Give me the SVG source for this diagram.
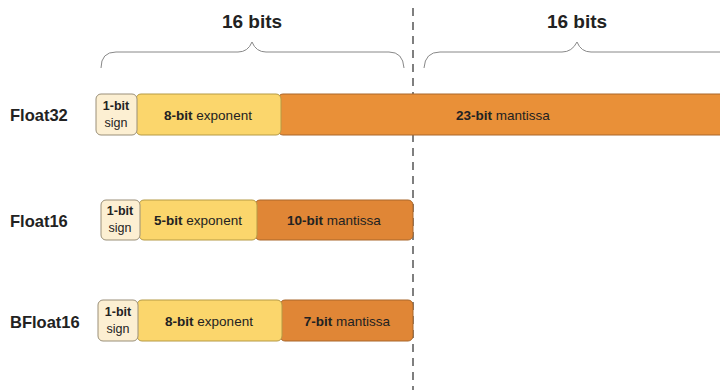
<svg xmlns="http://www.w3.org/2000/svg" width="720" height="390" viewBox="0 0 720 390">
<style>
.sign{fill:#fcefd2;stroke:#9a8f78;stroke-width:1}
.exp{fill:#fbd66c;stroke:#b59a45;stroke-width:1}
.man{fill:#e99038;stroke:#a9672a;stroke-width:1}
.man2{fill:#e08636;stroke:#a9672a;stroke-width:1}
text{font-family:"Liberation Sans",Arial,sans-serif;fill:#222}
.lbl{font-size:16.5px;font-weight:bold}
.hd{font-size:19px;font-weight:bold;text-anchor:middle}
.t{font-size:13.5px;text-anchor:middle}
.s{font-size:12.5px;text-anchor:middle}
.brace{fill:none;stroke:#888;stroke-width:1}
</style>
<rect width="720" height="390" fill="#fff"/>
<g id="header">
<text class="hd" x="252" y="28">16 bits</text>
<text class="hd" x="577" y="28">16 bits</text>
<path class="brace" d="M101,68 Q101,52 116,52 L238,52 Q248,52 252,42 Q256,52 266,52 L389,52 Q403,52 404,68"/>
<path class="brace" d="M424,68 Q425,52 440,52 L562,52 Q572,52 577,42 Q581,52 591,52 L720,52"/>
</g>
<g id="connectors">
<line x1="413" y1="8" x2="413" y2="390" stroke="#555" stroke-width="1.5" stroke-dasharray="8,6"/>
</g>
<g id="float32">
<text class="lbl" x="10" y="121">Float32</text>
<rect class="man" x="278" y="94" width="450" height="41" rx="5"/>
<rect class="exp" x="136" y="94" width="145" height="41" rx="5"/>
<rect class="sign" x="96" y="94" width="41" height="41" rx="5"/>
<text class="s" x="116" y="110" font-weight="bold">1-bit</text>
<text class="s" x="116" y="127">sign</text>
<text class="t" x="208" y="120"><tspan font-weight="bold">8-bit</tspan> exponent</text>
<text class="t" x="503" y="120"><tspan font-weight="bold">23-bit</tspan> mantissa</text>
</g>
<g id="float16">
<text class="lbl" x="10" y="227">Float16</text>
<rect class="man2" x="255" y="200" width="158" height="40" rx="5"/>
<rect class="exp" x="139" y="200" width="118" height="40" rx="5"/>
<rect class="sign" x="101" y="200" width="39" height="40" rx="5"/>
<text class="s" x="120" y="215" font-weight="bold">1-bit</text>
<text class="s" x="120" y="232">sign</text>
<text class="t" x="198" y="225"><tspan font-weight="bold">5-bit</tspan> exponent</text>
<text class="t" x="334" y="225"><tspan font-weight="bold">10-bit</tspan> mantissa</text>
</g>
<g id="bfloat16">
<text class="lbl" x="10" y="328">BFloat16</text>
<rect class="man2" x="280" y="300" width="133" height="41" rx="5"/>
<rect class="exp" x="137" y="300" width="145" height="41" rx="5"/>
<rect class="sign" x="98" y="300" width="40" height="41" rx="5"/>
<text class="s" x="118" y="316" font-weight="bold">1-bit</text>
<text class="s" x="118" y="333">sign</text>
<text class="t" x="209" y="326"><tspan font-weight="bold">8-bit</tspan> exponent</text>
<text class="t" x="347" y="326"><tspan font-weight="bold">7-bit</tspan> mantissa</text>
</g>
</svg>
